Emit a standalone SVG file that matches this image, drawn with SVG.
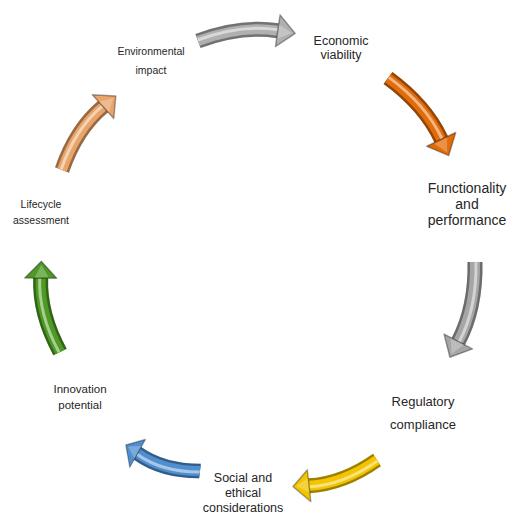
<svg xmlns="http://www.w3.org/2000/svg" width="509" height="519" viewBox="0 0 509 519">
<style>
.lbl{font-family:"Liberation Sans",Arial,sans-serif;fill:#262626;text-anchor:middle}
</style>
<defs>
<g id="arr">
<path d="M0,0 Q45,-12 82,-3" fill="none" stroke="currentColor" stroke-width="15"/>
<path d="M0,0 Q45,-12 82,-3" fill="none" stroke="#000" stroke-opacity="0.35" stroke-width="15"/>
<path d="M0,0 Q45,-12 82,-3" fill="none" stroke="currentColor" stroke-width="10"/>
<path d="M0,-1 Q45,-13 82,-4" fill="none" stroke="#fff" stroke-opacity="0.5" stroke-width="3"/>
<path d="M85.8,-18.6 L99.5,1.3 L78.2,12.6 Z" fill="currentColor" stroke="#000" stroke-opacity="0.35" stroke-width="1.5" stroke-linejoin="round"/>
<path d="M84,-9 L96,0.5 L81,5 Z" fill="#fff" fill-opacity="0.25"/>
</g>
</defs>
<rect width="509" height="519" fill="#fff"/>
<g id="connectors">
<use href="#arr" style="color:#b0b0b0" transform="translate(198,41) rotate(-5.2) scale(0.98,1)"/>
<use href="#arr" style="color:#e36c0a" transform="translate(388,78) rotate(51.2) scale(0.99,1)"/>
<use href="#arr" style="color:#a6a6a6" transform="translate(475,262) rotate(104) scale(0.99,1)"/>
<use href="#arr" style="color:#f2c500" transform="translate(377,460) rotate(161.6) scale(0.885,1)"/>
<use href="#arr" style="color:#4f8fcf" transform="translate(200,471) rotate(198.4) scale(0.79,1)"/>
<use href="#arr" style="color:#4e9a24" transform="translate(60,352) rotate(-102.4) scale(0.93,1)"/>
<use href="#arr" style="color:#e9a46a" transform="translate(62,170) rotate(-54.8) scale(0.92,1)"/>
</g>
<g id="environmental-impact"><text class="lbl" font-size="10.5" x="151" y="55">Environmental</text><text class="lbl" font-size="10.5" x="151" y="74">impact</text></g>
<g id="economic-viability"><text class="lbl" font-size="12.5" x="341" y="45">Economic</text><text class="lbl" font-size="12.5" x="341" y="59">viability</text></g>
<g id="functionality-performance"><text class="lbl" font-size="14" x="467" y="193">Functionality</text><text class="lbl" font-size="14" x="467" y="209">and</text><text class="lbl" font-size="14" x="467" y="225">performance</text></g>
<g id="regulatory-compliance"><text class="lbl" font-size="13" x="423" y="406">Regulatory</text><text class="lbl" font-size="13" x="423" y="429">compliance</text></g>
<g id="social-ethical"><text class="lbl" font-size="12.5" x="243" y="482">Social and</text><text class="lbl" font-size="12.5" x="243" y="497">ethical</text><text class="lbl" font-size="12.5" x="243" y="512">considerations</text></g>
<g id="innovation-potential"><text class="lbl" font-size="11.5" x="80" y="393">Innovation</text><text class="lbl" font-size="11.5" x="80" y="409">potential</text></g>
<g id="lifecycle-assessment"><text class="lbl" font-size="10.5" x="41" y="208">Lifecycle</text><text class="lbl" font-size="10.5" x="41" y="224">assessment</text></g>
</svg>
